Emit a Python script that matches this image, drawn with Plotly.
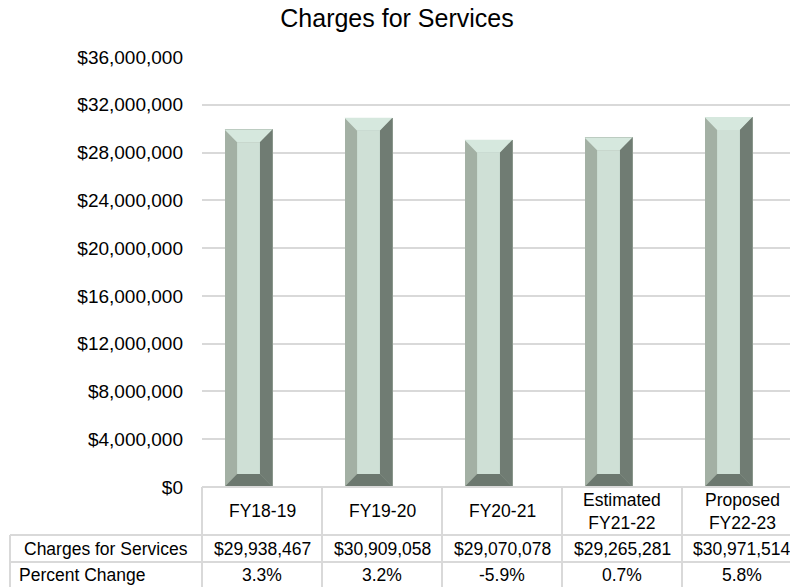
import plotly.graph_objects as go

# Fiscal-year data
categories = ["FY18-19", "FY19-20", "FY20-21", "Estimated<br>FY21-22", "Proposed<br>FY22-23"]
charges = [29938467, 30909058, 29070078, 29265281, 30971514]
pct_change = ["3.3%", "3.2%", "-5.9%", "0.7%", "5.8%"]
row_labels = ["Charges for Services", "Percent Change"]

FONT = "Liberation Sans, Arial, sans-serif"
C_LEFT = "#a3b0a4"
C_FACE = "#cfe0d6"
C_TOP = "#d6e8de"
C_RIGHT = "#707c73"
C_BOTTOM = "#6c786f"
GRID = "#d9d9d9"

# geometry in axis units
pos = list(range(len(categories)))
bar_w = 0.40
bar_shift = -0.1125          # bar centre relative to its table column
bev_x = 0.105                # bevel width (x units)
bev_y = 1.08e6               # bevel height (y units)
x_range = [-0.5, 4.4]
x_span = x_range[1] - x_range[0]

fig = go.Figure()

centers = [p + bar_shift for p in pos]
fig.add_trace(go.Bar(x=centers, y=charges, width=bar_w,
                     marker=dict(color=C_LEFT, line=dict(width=0)),
                     hoverinfo="skip", showlegend=False))


def polys(builder):
    xs, ys = [], []
    for c, v in zip(centers, charges):
        x0, x1 = c - bar_w / 2, c + bar_w / 2
        pts = builder(x0, x1, v)
        xs += [p[0] for p in pts] + [pts[0][0], None]
        ys += [p[1] for p in pts] + [pts[0][1], None]
    return xs, ys


faces = [
    (C_TOP, lambda x0, x1, v: [(x0, v), (x1, v), (x1 - bev_x, v - bev_y), (x0 + bev_x, v - bev_y)]),
    (C_RIGHT, lambda x0, x1, v: [(x1, v), (x1, 0), (x1 - bev_x, bev_y), (x1 - bev_x, v - bev_y)]),
    (C_BOTTOM, lambda x0, x1, v: [(x0, 0), (x1, 0), (x1 - bev_x, bev_y), (x0 + bev_x, bev_y)]),
    (C_FACE, lambda x0, x1, v: [(x0 + bev_x, bev_y), (x1 - bev_x, bev_y),
                                (x1 - bev_x, v - bev_y), (x0 + bev_x, v - bev_y)]),
]
for color, fn in faces:
    xs, ys = polys(fn)
    fig.add_trace(go.Scatter(x=xs, y=ys, mode="lines", fill="toself",
                             fillcolor=color, line=dict(width=0, color=color),
                             hoverinfo="skip", showlegend=False))

# ---- data table under the plot (paper coordinates) ----
plot_h = 430.0
def py(px_below):            # pixels below the axis -> paper y
    return -px_below / plot_h

def col_x(k):                # column boundary k -> paper x
    return (k - 0.5 - x_range[0]) / x_span

y_head = py(48)
y_row2 = py(75)
y_bottom = py(104)
x_left = -192 / 588.0

line = dict(color=GRID, width=2)
shapes = [
    dict(type="line", xref="paper", yref="paper", x0=0, x1=1.02, y0=0, y1=0, line=line),
    dict(type="line", xref="paper", yref="paper", x0=x_left, x1=1.02, y0=y_head, y1=y_head, line=line),
    dict(type="line", xref="paper", yref="paper", x0=x_left, x1=1.02, y0=y_row2, y1=y_row2, line=line),
    dict(type="line", xref="paper", yref="paper", x0=x_left, x1=x_left, y0=y_head, y1=y_bottom, line=line),
]
for k in range(len(categories)):
    xk = col_x(k)
    shapes.append(dict(type="line", xref="paper", yref="paper", x0=xk, x1=xk,
                       y0=0, y1=y_bottom, line=line))

annotations = []
tfont = dict(family=FONT, size=17.5, color="#000000")
for p, cat, val, pc in zip(pos, categories, charges, pct_change):
    annotations.append(dict(x=p, y=py(24), xref="x", yref="paper", text=cat,
                            showarrow=False, font=tfont, yanchor="middle", xanchor="center"))
    annotations.append(dict(x=p, y=py(61.5), xref="x", yref="paper", text=f"${val:,}",
                            showarrow=False, font=tfont, yanchor="middle", xanchor="center"))
    annotations.append(dict(x=p, y=py(88), xref="x", yref="paper", text=pc,
                            showarrow=False, font=tfont, yanchor="middle", xanchor="center"))

annotations.append(dict(x=(x_left + 0) / 2, y=py(61.5), xref="paper", yref="paper",
                        text=row_labels[0], showarrow=False, font=tfont,
                        xanchor="center", yanchor="middle"))
annotations.append(dict(x=x_left + 7 / 588.0, y=py(88), xref="paper", yref="paper",
                        text=row_labels[1], showarrow=False, font=tfont,
                        xanchor="left", yanchor="middle"))

fig.update_layout(
    width=790, height=587,
    margin=dict(l=202, r=0, t=57, b=100, pad=0),
    paper_bgcolor="white", plot_bgcolor="white",
    title=dict(text="Charges for Services", x=397 / 790, xref="container", xanchor="center",
               y=1 - 18 / 587, yanchor="middle",
               font=dict(family=FONT, size=25, color="#000000")),
    xaxis=dict(range=x_range, showgrid=False, zeroline=False, showticklabels=False,
               showline=False, fixedrange=True),
    yaxis=dict(range=[0, 36e6], dtick=4e6, tickprefix="$", tickformat=",.0f",
               showgrid=True, gridcolor=GRID, gridwidth=1.5, zeroline=False,
               showline=False, ticks="", ticklabelstandoff=18,
               tickfont=dict(family=FONT, size=19, color="#000000")),
    shapes=shapes, annotations=annotations,
    bargap=0, showlegend=False,
)

fig.write_html("out.html")
